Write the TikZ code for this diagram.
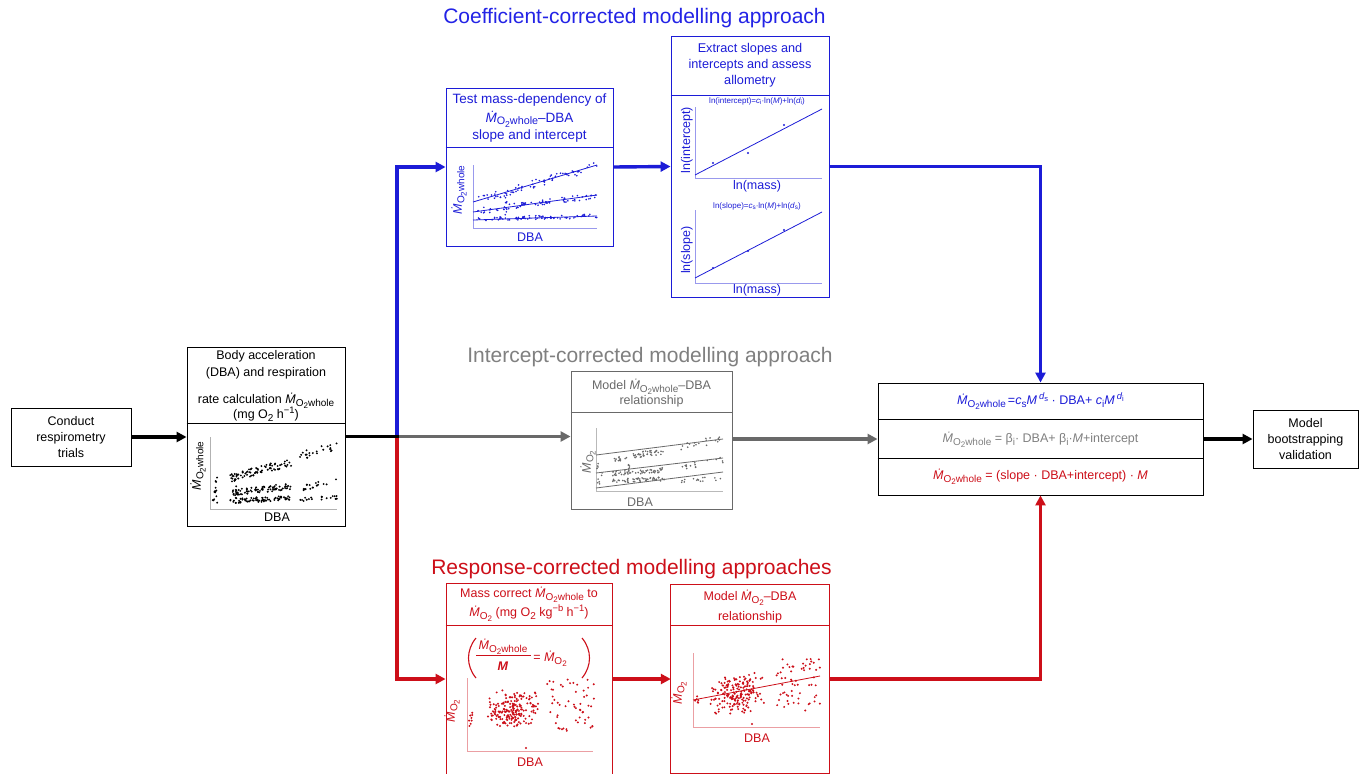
\documentclass[tikz,border=0pt]{standalone}
\usepackage{fontspec}
\setmainfont{Liberation Sans}
\usepackage{graphicx}
\usetikzlibrary{arrows.meta}
\definecolor{cblue}{RGB}{28,28,215}
\definecolor{tblue}{RGB}{35,35,230}
\definecolor{cred}{RGB}{205,15,25}
\definecolor{cgrey}{RGB}{105,105,105}
\definecolor{tgrey}{RGB}{128,128,128}
\newcommand\lsub[1]{\raisebox{-0.4ex}{\scalebox{0.8}{#1}}}
\newcommand\lsup[1]{\raisebox{0.8ex}{\scalebox{0.75}{#1}}}
\newcommand\Md{\textit{Ṁ}}
\newcommand\Mw{\Md\lsub{O\lsub{2}whole}}
\newcommand\Mo{\Md\lsub{O\lsub{2}}}
\def\dotr{0.9pt}
\newcommand\scat[6]{\foreach \ii in {1,...,#6}{%
  \pgfmathsetmacro\sct{rnd}%
  \pgfmathsetmacro\scx{#1+(#2-#1)*\sct}%
  \pgfmathsetmacro\scy{#3+(#4-#3)*\sct+#5*rand}%
  \fill (\scx,\scy) circle (\dotr);}}
\newcommand\cloud[5]{\foreach \ii in {1,...,#5}{%
  \pgfmathsetmacro\scx{#1+#3*rand}%
  \pgfmathsetmacro\scy{#2+#4*rand}%
  \fill (\scx,\scy) circle (\dotr);}}
\newcommand\tcloud[5]{\foreach \ii in {1,...,#5}{%
  \pgfmathsetmacro\scx{#1+#3*(rand+rand)/2}%
  \pgfmathsetmacro\scy{#2+#4*(rand+rand)/2-0.15*#4*(\scx-#1)/#3}%
  \fill (\scx,\scy) circle (\dotr);}}
\begin{document}
\begin{tikzpicture}[x=1pt,y=-1pt,font=\fontsize{12.5}{16}\selectfont,
  box/.style={draw, line width=0.9pt, inner sep=0pt},
  flow/.style={line width=3.4pt},
  arrowed/.style={-{Triangle[length=10pt,width=10pt]}},
  lbl/.style={inner sep=0pt, align=center},
  ttl/.style={inner sep=0pt, font=\fontsize{21}{25}\selectfont},
  axisln/.style={line width=0.7pt},
  tinylbl/.style={inner sep=0pt, font=\fontsize{8}{9}\selectfont},
  hdr/.style={inner sep=0pt, font=\fontsize{13.5}{16}\selectfont},
]
\path[use as bounding box, fill=white] (0,0) rectangle (1361,774);
\clip (0,0) rectangle (1361,774);
\pgfmathsetseed{7}

% ---------- titles ----------
\node[ttl, text=tblue] (t1) at (634.5,18) {Coefficient-corrected modelling approach};
\node[ttl, text=tgrey] (t2) at (650,357) {Intercept-corrected modelling approach};
\node[ttl, text=cred] (t3) at (631.5,569) {Response-corrected modelling approaches};

% ---------- boxes ----------
\node[box, align=center, minimum width=120pt, minimum height=58pt] (conduct) at (71,437) {Conduct\\respirometry\\trials};
\node[box, align=center, minimum width=105pt, minimum height=58pt] (boot) at (1305.5,439) {Model\\bootstrapping\\validation};
\node[box, minimum width=158pt, minimum height=179pt] (inp) at (266,436.5) {};
\node[box, draw=cblue, minimum width=167pt, minimum height=158pt] (test) at (529.5,167) {};
\node[box, draw=cblue, minimum width=158pt, minimum height=261pt] (extract) at (750,166.5) {};
\node[box, draw=cgrey, minimum width=161pt, minimum height=138pt] (greyb) at (651.5,440) {};
\node[box, minimum width=325pt, minimum height=112pt] (eq) at (1040.5,439) {};
\node[box, draw=cred, minimum width=166pt, minimum height=207pt] (redL) at (529,686.5) {};
\node[inner sep=0pt, minimum width=158pt, minimum height=188pt] (redR) at (750,679) {};
\draw[cred, line width=0.9pt] (redR.south west) rectangle (redR.north east);

% dividers
\draw[line width=0.9pt] (inp.west |- 0,423) -- (inp.east |- 0,423);
\draw[line width=0.9pt, cblue] (test.west |- 0,147) -- (test.east |- 0,147);
\draw[line width=0.9pt, cblue] (extract.west |- 0,95) -- (extract.east |- 0,95);
\draw[line width=0.9pt, cgrey] (greyb.west |- 0,412) -- (greyb.east |- 0,412);
\draw[line width=0.9pt] (eq.west |- 0,419) -- (eq.east |- 0,419);
\draw[line width=0.9pt] (eq.west |- 0,458) -- (eq.east |- 0,458);
\draw[line width=0.9pt, cred] (redL.west |- 0,625) -- (redL.east |- 0,625);
\draw[line width=0.9pt, cred] (redR.west |- 0,625) -- (redR.east |- 0,625);

% ---------- headers ----------
\node[lbl] (h1a) at (266,356) {Body acceleration};
\node[lbl] (h1b) at (266,373) {(DBA) and respiration};
\node[lbl] (h1c) at (266,401) {rate calculation \Mw};
\node[lbl] (h1d) at (266,414) {(mg O\lsub{2} h\lsup{−1})};

\begin{scope}[text=cblue]
\node[hdr] (h2a) at (529.5,100) {Test mass-dependency of};
\node[hdr] (h2b) at (529.5,119) {\Mw–DBA};
\node[hdr] (h2c) at (529.5,136) {slope and intercept};
\node[lbl, font=\fontsize{12.7}{16}\selectfont] (h3) at (750,65) {Extract slopes and\\intercepts and assess\\allometry};
\end{scope}

\node[lbl, text=cgrey] (h4a) at (651.5,387) {Model \Mw–DBA};
\node[lbl, text=cgrey] (h4b) at (651.5,401) {relationship};

\node[lbl, text=cred] (h5a) at (529,595) {Mass correct \Mw\ to};
\node[lbl, text=cred] (h5b) at (529,613) {\Mo\ (mg O\lsub{2} kg\lsup{−b} h\lsup{−1})};
\node[lbl, text=cred] (h6a) at (750,598) {Model \Mo–DBA};
\node[lbl, text=cred] (h6b) at (750,617) {relationship};

% ---------- equations ----------
\node[lbl, text=cblue] (e1) at (1040.5,401) {\Mw\,=\textit{c}\lsub{s}\textit{M}\,\lsup{\textit{d}\lsub{s}} · DBA+ \textit{c}\lsub{i}\textit{M}\,\lsup{\textit{d}\lsub{i}}};
\node[lbl, text=tgrey] (e2) at (1040.5,440) {\Mw\ = β\lsub{i}· DBA+ β\lsub{i}·\textit{M}+intercept};
\node[lbl, text=cred] (e3) at (1040.5,477) {\Mw\ = (slope · DBA+intercept) · \textit{M}};

% ---------- plot: input (black) ----------
\draw[axisln, gray!60] (210,437) -- (210,509) -- (337,509);
\node[lbl] (x1) at (277,517) {DBA};
\node[lbl, rotate=90] (y1) at (198,466) {\Mw};
\begin{scope}[fill=black]
\def\dotr{1.05pt}
\cloud{215}{488}{3}{15}{14}
\scat{230}{292}{478}{462}{4}{80}
\scat{300}{337}{456}{446}{4}{22}
\scat{230}{292}{493}{486}{3}{80}
\scat{300}{337}{489}{480}{3}{18}
\scat{230}{292}{501}{498}{2.5}{75}
\scat{300}{337}{500}{497}{2}{18}
\cloud{236}{488}{0.8}{11}{9}
\end{scope}

% ---------- plot: blue test ----------
\draw[axisln, cblue!45] (473,165) -- (473,228) -- (597,228);
\node[lbl, text=cblue] (x2) at (530,237) {DBA};
\node[lbl, rotate=90, text=cblue] (y2) at (459,190) {\Mw};
\begin{scope}[fill=cblue, draw=cblue]
\def\dotr{0.9pt}
\draw[line width=0.8pt] (473,202) -- (597,165);
\draw[line width=0.8pt] (473,212) -- (597,195);
\draw[line width=0.8pt] (473,220) -- (597,216);
\scat{478}{597}{200}{166}{4}{70}
\scat{478}{597}{211}{196}{3}{70}
\scat{478}{597}{219}{216}{2}{70}
\cloud{506}{205}{0.8}{10}{7}
\end{scope}

% ---------- plots: extract ----------
\begin{scope}[text=cblue]
\node[tinylbl] (p1) at (757,101) {ln(intercept)=\textit{c}\lsub{i}·ln(\textit{M})+ln(\textit{d}\lsub{i})};
\draw[axisln, cblue!45] (695,107) -- (695,178) -- (822,178);
\draw[line width=0.8pt, cblue] (695,175) -- (822,109);
\fill[cblue] (713,163) circle (1.1pt) (748,153) circle (1.1pt) (784,125) circle (1.1pt);
\node[lbl, rotate=90] (y3) at (687,140) {ln(intercept)};
\node[lbl] (x3) at (757,186) {ln(mass)};

\node[tinylbl] (p2) at (757,206) {ln(slope)=\textit{c}\lsub{s}·ln(\textit{M})+ln(\textit{d}\lsub{s})};
\draw[axisln, cblue!45] (695,210) -- (695,283) -- (822,283);
\draw[line width=0.8pt, cblue] (695,278) -- (822,212);
\fill[cblue] (713,268) circle (1.1pt) (748,251) circle (1.1pt) (784,230) circle (1.1pt);
\node[lbl, rotate=90] (y4) at (687,250) {ln(slope)};
\node[lbl] (x4) at (757,290) {ln(mass)};
\end{scope}

% ---------- plot: grey ----------
\draw[axisln, gray!55] (596,428) -- (596,491) -- (723,491);
\node[lbl, text=cgrey] (x5) at (640,502) {DBA};
\node[lbl, rotate=90, text=cgrey] (y5) at (588,462) {\Mo};
\begin{scope}[fill=cgrey, draw=cgrey]
\def\dotr{0.9pt}
\draw[line width=0.8pt] (596,455) -- (723,439);
\draw[line width=0.8pt] (596,473) -- (723,458);
\draw[line width=0.8pt] (596,488) -- (723,472);
\scat{612}{665}{459}{451}{3}{50}
\scat{680}{723}{448}{438}{4}{18}
\scat{612}{665}{474}{470}{2.5}{50}
\scat{680}{723}{467}{460}{3}{15}
\scat{612}{665}{481}{479}{2}{50}
\scat{680}{723}{481}{478}{2}{15}
\cloud{600}{473}{3}{12}{10}
\cloud{629}{468}{0.8}{9}{7}
\end{scope}

% ---------- plot: red left ----------
\draw[line width=1.1pt, cred] (476,638) .. controls (466,650) and (466,666) .. (476,678);
\draw[line width=1.1pt, cred] (582,638) .. controls (592,650) and (592,666) .. (582,678);
\node[lbl, text=cred] (fn) at (503,647) {\Mw};
\draw[line width=0.8pt, cred] (476,655) -- (531,655);
\node[lbl, text=cred] (fd) at (503,666) {\textbf{\textit{M}}};
\node[lbl, text=cred] (fr) at (550,659) {= \Mo};
\draw[axisln, cred!40] (467,678) -- (467,751) -- (593,751);
\node[lbl, text=cred] (x6) at (530,762) {DBA};
\node[lbl, rotate=90, text=cred] (y6) at (452,711) {\Mo};
\begin{scope}[fill=cred]
\def\dotr{1.1pt}
\cloud{471}{718}{2}{8}{8}
\tcloud{512}{710}{28}{22}{190}
\cloud{570}{705}{24}{26}{55}
\fill (526,748) circle (\dotr);
\end{scope}

% ---------- plot: red right ----------
\draw[axisln, cred!40] (693,653) -- (693,727) -- (820,727);
\draw[line width=0.8pt, cred] (693,700) -- (820,676);
\node[lbl, text=cred] (x7) at (757,738) {DBA};
\node[lbl, rotate=90, text=cred] (y7) at (679,693) {\Mo};
\begin{scope}[fill=cred]
\def\dotr{1.1pt}
\cloud{697}{700}{2}{6}{6}
\tcloud{737}{695}{30}{22}{190}
\cloud{798}{685}{22}{26}{60}
\fill (752,724) circle (\dotr);
\end{scope}

% ---------- connectors ----------
\coordinate (j) at (397,436.5);
\draw[flow, arrowed, cblue] (j) |- (test.west);
\draw[flow, arrowed, cblue] (test.east) -- (extract.west);
\draw[flow, arrowed, cblue] (extract.east) -| (eq.north);
\draw[flow, arrowed, cgrey] (j) -- (greyb.west |- j);
\draw[flow, arrowed, cgrey] (greyb.east |- eq.west) -- (eq.west);
\draw[flow, arrowed, cred] (j) |- (redL.west |- redR.center);
\draw[flow, arrowed, cred] (redL.east |- redR.center) -- (redR.west);
\draw[flow, arrowed, cred] (redR.east) -| (eq.south);
\draw[flow] (inp.east) -- ([xshift=1.7pt]j);
\draw[flow, arrowed] (conduct.east) -- (inp.west |- conduct.east);
\draw[flow, arrowed] (eq.east) -- (boot.west);
\end{tikzpicture}
\end{document}
